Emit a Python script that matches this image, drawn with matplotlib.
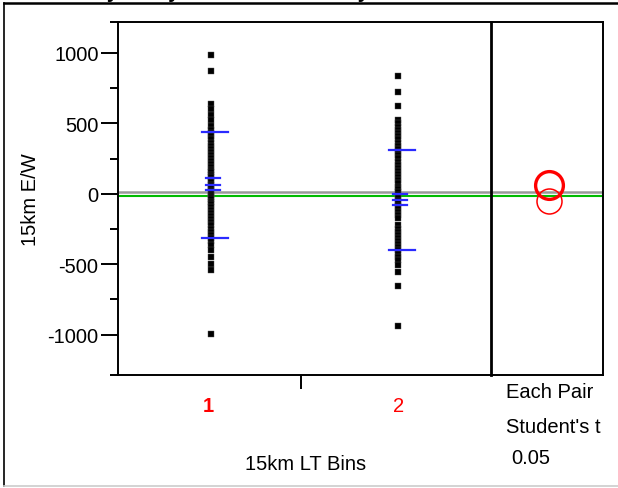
import matplotlib
matplotlib.use('Agg')

import matplotlib.pyplot as plt
from matplotlib.lines import Line2D

plt.rcParams['font.family'] = ['Liberation Sans', 'DejaVu Sans']
plt.rcParams['axes.unicode_minus'] = False

# values
group_names = ['1', '2']
group1 = [988, 873, 640, 604, 557, 521, 484, 452, 431, 409, 388, 362, 341, 318,
          297, 276, 254, 233, 215, 193, 171, 152, 134, 118, 97, 83, 66, 51, 38,
          22, 9, -6, -21, -37, -55, -72, -94, -113, -136, -158, -179, -203,
          -224, -247, -268, -291, -314, -338, -360, -401, -448, -496, -543, -995]
group2 = [837, 724, 624, 527, 502, 478, 455, 431, 408, 386, 362, 340, 318, 297,
          273, 251, 228, 206, 183, 161, 139, 117, 96, 74, 52, 31, 12, -8, -27,
          -49, -68, -89, -110, -131, -152, -171, -224, -246, -268, -290, -313,
          -335, -357, -380, -402, -426, -449, -472, -503, -555, -657, -941]
means = [66, -46]
ci_low = [25, -78]
ci_high = [113, -4]
sd_low = [-313, -401]
sd_high = [437, 312]
grand_mean = 13
green_level = -16
circle_centers = [64, -52]

fig = plt.figure(figsize=(6.18, 4.89), dpi=100)
W, H = 618, 489

ax = fig.add_axes([118 / W, 1 - 376 / H, (491 - 118) / W, (376 - 23) / H])
ax2 = fig.add_axes([491 / W, 1 - 376 / H, (603 - 491) / W, (376 - 23) / H], sharey=ax)

ylo, yhi = -1286, 1220
ax.set_xlim(0.5, 2.5)
ax.set_ylim(ylo, yhi)

for i, vals in enumerate([group1, group2]):
    x = i + 1
    ax.plot([x] * len(vals), vals, 's', color='black', markersize=4.4,
            markeredgewidth=0.3, markeredgecolor='#555555', zorder=3)
    # std dev lines
    for v in (sd_low[i], sd_high[i]):
        ax.plot([x - 0.048, x + 0.091], [v, v], color='#2a2aff', lw=1.6, zorder=4)
    # mean and error bars
    for v in (ci_low[i], means[i], ci_high[i]):
        ax.plot([x - 0.027, x + 0.048], [v, v], color='#2a2aff', lw=1.6, zorder=4)

for a in (ax, ax2):
    a.axhline(grand_mean, color='#999999', lw=1.8, zorder=2)
    a.axhline(green_level, color='#00bb00', lw=1.5, zorder=2)

# comparison circles
ax2.set_xlim(0, 1)
ax2.plot([0.52], [circle_centers[0]], 'o', markersize=20, markerfacecolor='none',
         markeredgecolor='red', markeredgewidth=2.4, zorder=5)
ax2.plot([0.52], [circle_centers[1]], 'o', markersize=18, markerfacecolor='none',
         markeredgecolor='red', markeredgewidth=1.1, zorder=5)

# axes styling
ax.set_yticks([-1000, -500, 0, 500, 1000])
ax.set_yticks([-750, -250, 250, 750, ylo, yhi], minor=True)
ax.tick_params(axis='y', which='major', length=12, width=1.4, labelsize=14.5,
               pad=2, colors='black')
ax.tick_params(axis='y', which='minor', length=6, width=1.4)
ax.set_xticks([1.48])
ax.set_xticklabels([''])
ax.tick_params(axis='x', length=10, width=1.4, direction='out')

for s in ['left', 'bottom', 'top']:
    ax.spines[s].set_linewidth(1.4)
ax.spines['right'].set_visible(False)

ax2.spines['left'].set_linewidth(2)
for s in ['right', 'bottom', 'top']:
    ax2.spines[s].set_linewidth(1.4)
ax2.tick_params(which='both', left=False, labelleft=False, bottom=False,
                labelbottom=False)

# group labels
fig.text(208 / W, 1 - 407 / H, group_names[0], color='red', fontsize=14.5,
         fontweight='bold', ha='center', va='center')
fig.text(399 / W, 1 - 407 / H, group_names[1], color='red', fontsize=14.5,
         ha='center', va='center')

fig.text(306 / W, 1 - 465 / H, '15km LT Bins', fontsize=14.5, ha='center', va='center')
fig.text(30 / W, 1 - 200 / H, '15km E/W', fontsize=14.5, rotation=90,
         ha='center', va='center')
fig.text(506 / W, 1 - 393 / H, 'Each Pair', fontsize=14.5, va='center')
fig.text(506 / W, 1 - 428 / H, "Student's t", fontsize=14.5, va='center')
fig.text(511 / W, 1 - 459 / H, '0.05', fontsize=14.5, va='center')

# report title, cut off at the top edge as in the screenshot
fig.text(39 / W, 1 + 1.6 / H, 'Oneway Analysis of 15km E/W By 15km LT Bins',
         fontsize=14.9, fontweight='bold', va='baseline')

# outer report frame
fig.add_artist(Line2D([4 / W, 1], [1 - 4 / H, 1 - 4 / H], color='black', lw=1.8))
fig.add_artist(Line2D([4 / W, 4 / W], [1 - 4 / H, 1 - 487 / H], color='black', lw=1.2))
fig.add_artist(Line2D([4 / W, 1], [1 - 487 / H, 1 - 487 / H], color='#cccccc', lw=1.2))

fig.savefig('out.png', dpi=100)
